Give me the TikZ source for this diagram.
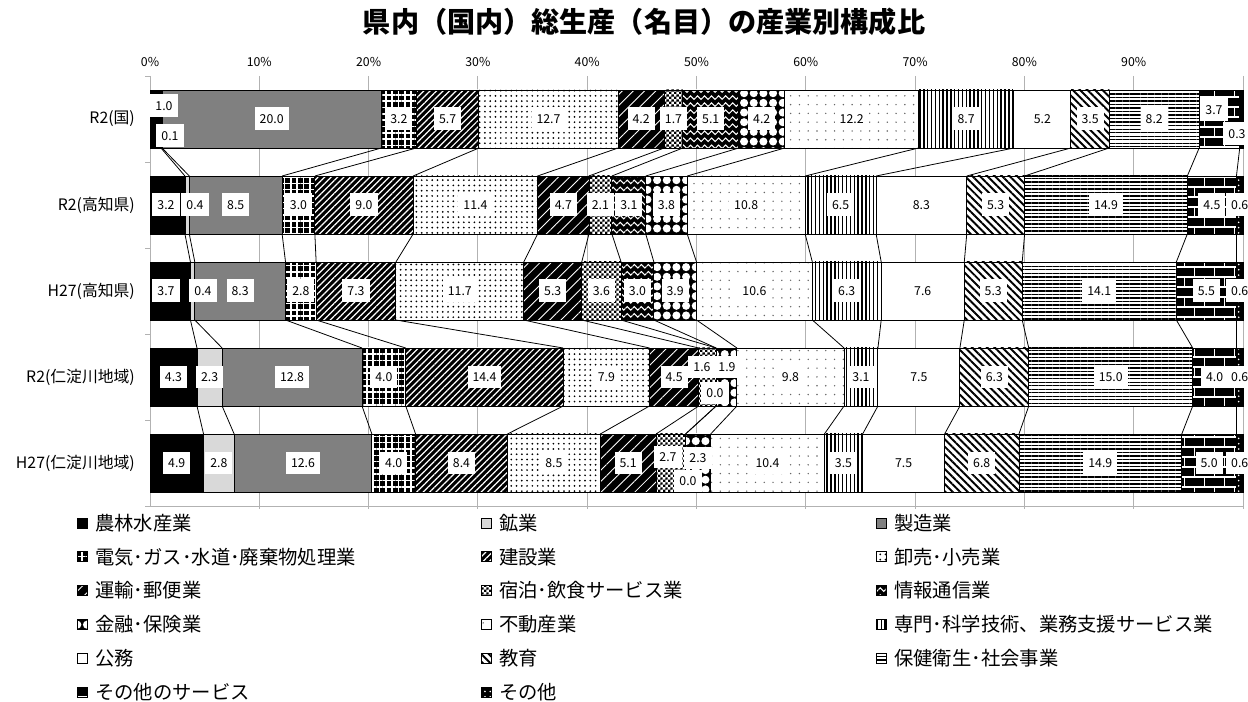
\documentclass[tikz,border=0pt]{standalone}
\usepackage{fontspec}
\setmainfont{Noto Sans CJK JP}
\usetikzlibrary{positioning,patterns,patterns.meta}

\pgfdeclarelayer{front}
\pgfsetlayers{main,front}

\tikzdeclarepattern{
  name=waves, type=uncolored,
  bottom left={(0pt,-1.5pt)}, top right={(4pt,2.5pt)},
  tile size={(4pt,4pt)},
  code={\draw[line width=0.6pt] (0pt,0pt) sin (1pt,1pt) cos (2pt,0pt) sin (3pt,-1pt) cos (4pt,0pt);}
}
\tikzdeclarepattern{
  name=finechecks, type=uncolored,
  bottom left={(0pt,0pt)}, top right={(3pt,3pt)},
  tile size={(3pt,3pt)},
  code={\fill (0pt,0pt) rectangle (1.5pt,1.5pt) (1.5pt,1.5pt) rectangle (3pt,3pt);}
}

% labels that are moved away from the middle of their segment
\newcommand\lblat[3]{\expandafter\def\csname lblx#1\endcsname{#2}\expandafter\def\csname lbly#1\endcsname{#3}}
\lblat{1-1}{164}{106}
\lblat{1-2}{170}{136}
\lblat{1-16}{1214}{110}
\lblat{1-17}{1237}{134}
\lblat{2-1}{166}{205}
\lblat{2-2}{195}{205}
\lblat{3-1}{166}{291}
\lblat{3-2}{203}{291}
\lblat{4-8}{702}{367}
\lblat{4-9}{715}{393}
\lblat{4-10}{727}{367}
\lblat{5-8}{668}{457}
\lblat{5-9}{688}{481}
\lblat{5-10}{698}{458}

\begin{document}
\begin{tikzpicture}[
    x=0.02cm, y=-0.02cm,
    lbl/.style={fill=white, font=\fontsize{7}{8}\selectfont, inner xsep=0.1cm, inner ysep=0pt, minimum height=0.46cm},
    gridline/.style={gray!60, line width=0.5pt},
    conn/.style={black, line width=0.45pt},
    seg/.style={draw=black, line width=0.5pt},
    ind1/.style={fill=black},
    ind2/.style={fill=black!15},
    ind3/.style={fill=black!50},
    ind4/.style={preaction={fill=black}, pattern={Hatch[distance=3.6pt,line width=0.9pt]}, pattern color=white},
    ind5/.style={preaction={fill=black}, pattern={Lines[angle=45,distance=2.6pt,line width=0.7pt]}, pattern color=white},
    ind6/.style={preaction={fill=white}, pattern={Dots[radius=0.55pt,distance=3pt]}, pattern color=black},
    ind7/.style={preaction={fill=black}, pattern={Lines[angle=45,distance=4.5pt,line width=0.5pt]}, pattern color=white},
    ind8/.style={preaction={fill=white}, pattern=finechecks, pattern color=black},
    ind9/.style={preaction={fill=black}, pattern=waves, pattern color=white},
    ind10/.style={preaction={fill=black}, pattern={Dots[radius=2.3pt,distance=5.5pt]}, pattern color=white},
    ind11/.style={preaction={fill=white}, pattern={Dots[radius=0.45pt,distance=5pt]}, pattern color=black!60},
    ind12/.style={preaction={fill=white}, pattern={Lines[angle=90,distance=2.2pt,line width=0.8pt]}, pattern color=black},
    ind13/.style={fill=white},
    ind14/.style={preaction={fill=white}, pattern={Lines[angle=-45,distance=3pt,line width=1.1pt]}, pattern color=black},
    ind15/.style={preaction={fill=white}, pattern={Lines[angle=0,distance=2pt,line width=0.8pt]}, pattern color=black},
    ind16/.style={preaction={fill=black}, pattern=bricks, pattern color=white},
    ind17/.style={preaction={fill=black}, pattern={Dots[radius=0.5pt,distance=3pt]}, pattern color=white}
  ]
  \useasboundingbox (0,0) rectangle (1248,702);

  \node[font=\bfseries\fontsize{16}{18}\selectfont] (title) at (644,22) {県内（国内）総生産（名目）の産業別構成比};

  % grid and axes
  \foreach \p in {10,20,...,100}
    \draw[gridline] ({150+10.93*\p},76) -- ({150+10.93*\p},509);
  \foreach \p in {0,10,...,90}
    \node[font=\fontsize{7}{8}\selectfont] (pct\p) at ({150+10.93*\p},62) {\p\%};
  \draw[gridline] (150,76) -- (150,506) (145,506) -- (1243,506);
  \foreach \t in {0,...,5}
    \draw[gridline] (145,{76+86*\t}) -- (150,{76+86*\t});

  \foreach \cat [count=\r] in {R2(国),R2(高知県),H27(高知県),R2(仁淀川地域),H27(仁淀川地域)}
    \node[font=\fontsize{9}{10}\selectfont, anchor=east] (cat\r) at (141,{119+86*(\r-1)}) {\cat};

  % bars
  \foreach \vals [count=\r] in {
      {1.0,0.1,20.0,3.2,5.7,12.7,4.2,1.7,5.1,4.2,12.2,8.7,5.2,3.5,8.2,3.7,0.3},
      {3.2,0.4,8.5,3.0,9.0,11.4,4.7,2.1,3.1,3.8,10.8,6.5,8.3,5.3,14.9,4.5,0.6},
      {3.7,0.4,8.3,2.8,7.3,11.7,5.3,3.6,3.0,3.9,10.6,6.3,7.6,5.3,14.1,5.5,0.6},
      {4.3,2.3,12.8,4.0,14.4,7.9,4.5,1.6,0.0,1.9,9.8,3.1,7.5,6.3,15.0,4.0,0.6},
      {4.9,2.8,12.6,4.0,8.4,8.5,5.1,2.7,0.0,2.3,10.4,3.5,7.5,6.8,14.9,5.0,0.6}}{
    \pgfmathsetmacro\tot{{99.7,100.1,100,100,100}[\r-1]}
    \pgfmathsetmacro\yt{90+86*(\r-1)}
    \pgfmathsetmacro\yb{\yt+58}
    \pgfmathsetmacro\ym{\yt+29}
    \gdef\acc{0}
    \foreach \v [count=\k] in \vals {
      \pgfmathsetmacro\xa{150+\acc/\tot*1093}
      \pgfmathsetmacro\newacc{\acc+\v}
      \xdef\acc{\newacc}
      \pgfmathsetmacro\xb{150+\acc/\tot*1093}
      \path[ind\k, seg] (\xa,\yt) rectangle (\xb,\yb);
      \coordinate (t\r-\k) at (\xb,\yt);
      \coordinate (u\r-\k) at (\xb,\yb);
      \ifcsname lblx\r-\k\endcsname
        \edef\lx{\csname lblx\r-\k\endcsname}\edef\ly{\csname lbly\r-\k\endcsname}
      \else
        \pgfmathsetmacro\lx{(\xa+\xb)/2}\let\ly\ym
      \fi
      \begin{pgfonlayer}{front}
        \node[lbl] (v\r-\k) at (\lx,\ly) {\v};
      \end{pgfonlayer}
    }
  }

  \foreach \r [evaluate=\r as \rn using int(\r+1)] in {1,...,4}
    \foreach \k in {1,...,16}
      \draw[conn] (u\r-\k) -- (t\rn-\k);

  % legend
  \foreach \lname [count=\k] in {農林水産業,鉱業,製造業,電気･ガス･水道･廃棄物処理業,建設業,卸売･小売業,運輸･郵便業,宿泊･飲食サービス業,情報通信業,金融･保険業,不動産業,専門･科学技術、業務支援サービス業,公務,教育,保健衛生･社会事業,その他のサービス,その他}{
    \pgfmathsetmacro\lgx{{77,481,876}[int(mod(\k-1,3))]}
    \pgfmathsetmacro\lgy{523+33.8*int((\k-1)/3)}
    \node[ind\k, draw=black, line width=0.4pt, minimum size=0.2cm, inner sep=0pt, anchor=west] (key\k) at (\lgx,\lgy) {};
    \node[font=\fontsize{11}{12}\selectfont, right=0.14cm of key\k, inner sep=0pt] (name\k) {\lname};
  }
\end{tikzpicture}
\end{document}
